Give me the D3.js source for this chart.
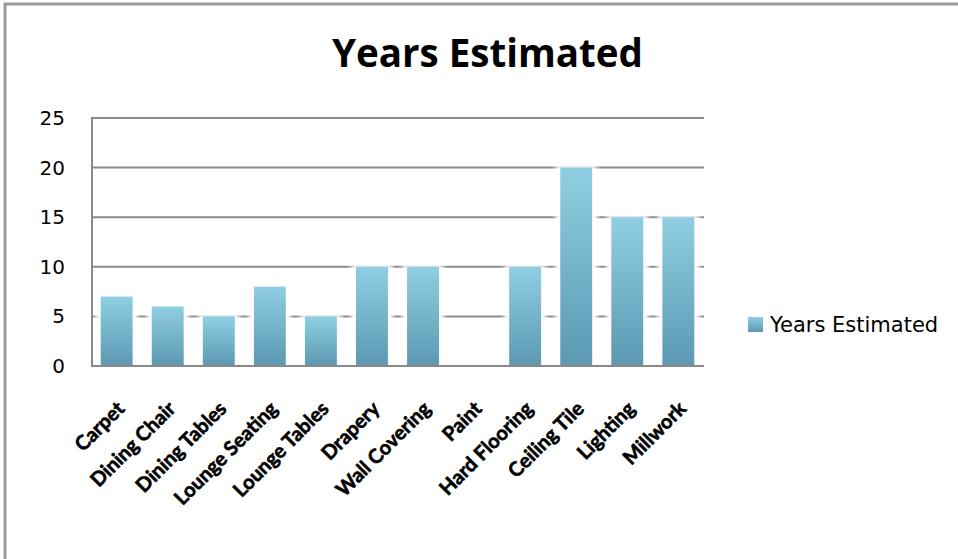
<!DOCTYPE html>
<html>
<head>
<meta charset="utf-8">
<script src="https://cdn.jsdelivr.net/npm/d3@7"></script>
<style>
    body { margin: 0; background: #fff; }
    svg { display: block; }
</style>
</head>
<body>
<div id="chart"></div>
<script>
const categories = ["Carpet", "Dining Chair", "Dining Tables", "Lounge Seating", "Lounge Tables",
    "Drapery", "Wall Covering", "Paint", "Hard Flooring", "Ceiling Tile", "Lighting", "Millwork"];
const yearsEstimated = [7, 6, 5, 8, 5, 10, 10, 0, 10, 20, 15, 15];
const yTicks = [0, 5, 10, 15, 20, 25];
const seriesName = "Years Estimated";

const width = 958, height = 559;
const plot = { left: 91, right: 704, top: 118, bottom: 366 };

const svg = d3.select("#chart")
    .append("svg")
    .attr("width", width)
    .attr("height", height);

const defs = svg.append("defs");
const grad = defs.append("linearGradient")
    .attr("id", "barGrad")
    .attr("x1", 0).attr("y1", 0).attr("x2", 0).attr("y2", 1);
grad.append("stop").attr("offset", "0%").attr("stop-color", "#8fcee3");
grad.append("stop").attr("offset", "100%").attr("stop-color", "#5c99b1");

defs.append("filter")
    .attr("id", "glow")
    .attr("x", "-50%").attr("y", "-10%").attr("width", "200%").attr("height", "120%")
    .append("feGaussianBlur")
    .attr("stdDeviation", 2);

// outer frame, only left and top edges show
svg.append("path")
    .attr("d", `M5,${height} V4 H${width}`)
    .attr("fill", "none")
    .attr("stroke", "#9a9a9a")
    .attr("stroke-width", 3);

const x = d3.scaleBand()
    .domain(categories)
    .range([plot.left, plot.right])
    .paddingInner(0.375)
    .paddingOuter(0.19);

const y = d3.scaleLinear()
    .domain([0, 25])
    .range([plot.bottom, plot.top]);

const data = yearsEstimated.map((v, i) => ({ cat: categories[i], v }));

// gridlines
svg.append("g")
    .selectAll("line")
    .data(yTicks)
    .join("line")
    .attr("x1", plot.left)
    .attr("x2", plot.right)
    .attr("y1", d => y(d))
    .attr("y2", d => y(d))
    .attr("stroke", "#8a8a8a")
    .attr("stroke-width", 2);

// soft white halo behind the bars
svg.append("g")
    .selectAll("rect")
    .data(data.filter(d => d.v > 0))
    .join("rect")
    .attr("x", d => x(d.cat) - 5)
    .attr("y", d => y(d.v) - 2)
    .attr("width", x.bandwidth() + 10)
    .attr("height", d => y(0) - y(d.v) + 2)
    .attr("fill", "#fff")
    .attr("filter", "url(#glow)");

svg.append("g")
    .selectAll("rect")
    .data(data)
    .join("rect")
    .attr("x", d => x(d.cat))
    .attr("y", d => y(d.v))
    .attr("width", x.bandwidth())
    .attr("height", d => y(0) - y(d.v))
    .attr("fill", "url(#barGrad)");

// axis lines
svg.append("line")
    .attr("x1", plot.left + 1).attr("x2", plot.left + 1)
    .attr("y1", plot.top).attr("y2", plot.bottom)
    .attr("stroke", "#8a8a8a").attr("stroke-width", 2);
svg.append("line")
    .attr("x1", plot.left).attr("x2", plot.right)
    .attr("y1", plot.bottom).attr("y2", plot.bottom)
    .attr("stroke", "#8a8a8a").attr("stroke-width", 2);

// y tick labels
svg.append("g")
    .selectAll("text")
    .data(yTicks)
    .join("text")
    .attr("x", 65)
    .attr("y", d => y(d) + 7)
    .attr("text-anchor", "end")
    .style("font-family", "'DejaVu Sans', sans-serif")
    .style("font-size", "20px")
    .attr("fill", "#000")
    .text(d => d);

// x labels, rotated (a thin stroke makes them as heavy as the original)
svg.append("g")
    .selectAll("text")
    .data(categories)
    .join("text")
    .attr("transform", d => `translate(${x(d) + x.bandwidth() / 2 + 9},${plot.bottom + 44}) rotate(-45)`)
    .attr("text-anchor", "end")
    .style("font-family", "Lato, sans-serif")
    .style("font-size", "20px")
    .style("font-weight", "bold")
    .attr("fill", "#000")
    .attr("stroke", "#000")
    .attr("stroke-width", 0.6)
    .text(d => d);

// title
svg.append("text")
    .attr("x", 332)
    .attr("y", 67)
    .attr("textLength", 311)
    .attr("lengthAdjust", "spacingAndGlyphs")
    .style("font-family", "'Open Sans', sans-serif")
    .style("font-size", "40px")
    .style("font-weight", "bold")
    .text(seriesName);

// legend
const legend = svg.append("g").attr("transform", "translate(748,317)");
legend.append("rect")
    .attr("width", 15).attr("height", 15)
    .attr("fill", "url(#barGrad)");
legend.append("text")
    .attr("x", 22)
    .attr("y", 15)
    .style("font-family", "'DejaVu Sans', sans-serif")
    .style("font-size", "21px")
    .text(seriesName);
</script>
</body>
</html>
